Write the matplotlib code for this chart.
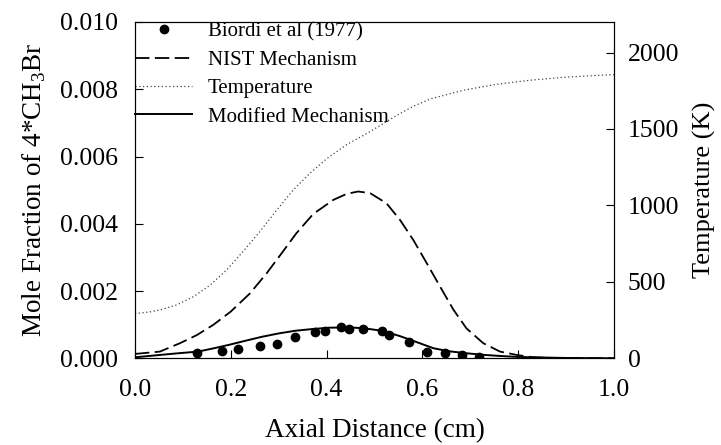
import matplotlib
matplotlib.use('Agg')
import matplotlib.pyplot as plt

plt.rcParams['font.family'] = ['Liberation Serif', 'DejaVu Serif']
plt.rcParams['mathtext.fontset'] = 'custom'
plt.rcParams['mathtext.rm'] = 'Liberation Serif'

# Biordi et al (1977) measurements
x_exp = [0.130, 0.182, 0.216, 0.260, 0.297, 0.335, 0.376, 0.396, 0.430, 0.446,
         0.477, 0.515, 0.531, 0.573, 0.610, 0.648, 0.682, 0.719]
y_exp = [0.00017, 0.00023, 0.00027, 0.00038, 0.00042, 0.00062, 0.00077, 0.00080,
         0.00094, 0.00088, 0.00088, 0.00081, 0.00069, 0.00048, 0.00019, 0.00016,
         0.00010, 0.00003]

# NIST mechanism
x_nist = [0, 0.052, 0.094, 0.129, 0.163, 0.2, 0.24, 0.275, 0.306, 0.337, 0.372, 0.414,
          0.442, 0.466, 0.491, 0.525, 0.553, 0.581, 0.609, 0.637, 0.665, 0.692, 0.727,
          0.762, 0.797, 0.831, 0.866, 0.93, 1.0]
y_nist = [0.00013, 0.0002, 0.00045, 0.00069, 0.00099, 0.00139, 0.00193, 0.00253, 0.00312,
          0.00372, 0.00429, 0.00471, 0.00489, 0.00496, 0.00491, 0.00461, 0.00412, 0.00352,
          0.00283, 0.00213, 0.00144, 0.00089, 0.00045, 0.0002, 0.0001, 0.00003, 0.00001,
          0.000003, 0.0]

# temperature profile (K)
x_temp = [0, 0.03, 0.052, 0.087, 0.122, 0.157, 0.191, 0.226, 0.261, 0.296, 0.33, 0.365,
          0.4, 0.443, 0.478, 0.513, 0.547, 0.582, 0.617, 0.686, 0.756, 0.825, 0.894,
          0.95, 1.0]
temp = [293, 303, 316, 349, 403, 479, 577, 700, 830, 970, 1100, 1210, 1305, 1400, 1460,
        1525, 1590, 1650, 1697, 1754, 1793, 1819, 1838, 1848, 1856]

# modified mechanism
x_mod = [0, 0.052, 0.09, 0.132, 0.165, 0.196, 0.23, 0.265, 0.3, 0.335, 0.37, 0.405,
         0.447, 0.48, 0.51, 0.53, 0.553, 0.575, 0.6, 0.623, 0.655, 0.692, 0.73, 0.762,
         0.8, 0.831, 0.9, 1.0]
y_mod = [0.00003, 0.0001, 0.00015, 0.0002, 0.0003, 0.0004, 0.00052, 0.00064, 0.00074,
         0.00082, 0.00087, 0.00091, 0.00092, 0.00089, 0.00083, 0.00076, 0.00066, 0.00055,
         0.00042, 0.0003, 0.00021, 0.00015, 0.0001, 0.00007, 0.00004, 0.00003, 0.00001, 0.0]

fig = plt.figure(figsize=(7.21, 4.45), dpi=100)
ax = fig.add_axes([0.1872, 0.1948, 0.6644, 0.7558])
ax2 = ax.twinx()

p1, = ax.plot(x_exp, y_exp, 'o', color='black', ms=6, label='Biordi et al (1977)')
p2, = ax.plot(x_nist, y_nist, color='black', lw=1.3, dashes=(8, 3), label='NIST Mechanism')
p3, = ax2.plot(x_temp, temp, color='#444444', lw=0.9, ls=(0, (1, 2)), label='Temperature')
p4, = ax.plot(x_mod, y_mod, color='black', lw=1.4, label='Modified Mechanism')

ax.set_xlim(0, 1.0)
ax.set_ylim(0, 0.010)
ax2.set_ylim(0, 2200)
ax.set_xticks([0.0, 0.2, 0.4, 0.6, 0.8, 1.0])
ax.set_xticklabels(['0.0', '0.2', '0.4', '0.6', '0.8', '1.0'])
ax.set_yticks([0.0, 0.002, 0.004, 0.006, 0.008, 0.010])
ax.set_yticklabels(['0.000', '0.002', '0.004', '0.006', '0.008', '0.010'])
ax2.set_yticks([0, 500, 1000, 1500, 2000])

ax.tick_params(axis='x', direction='in', length=6, width=0.8, labelsize=18.5, pad=15)
ax.tick_params(axis='y', direction='in', length=6, width=0.8, labelsize=18.5, pad=12)
ax2.tick_params(direction='in', length=6, width=0.8, labelsize=18.5, pad=10)

ax.set_xlabel('Axial Distance (cm)', fontsize=19.5, labelpad=12)
ax.set_ylabel('Mole Fraction of 4*CH$_3$Br', fontsize=19.5, labelpad=9)
ax2.set_ylabel('Temperature (K)', fontsize=19, labelpad=10)

ax.legend(handles=[p1, p2, p3, p4], loc='upper left', frameon=False, fontsize=15,
          handlelength=2.75, handletextpad=0.75, labelspacing=0.42,
          borderaxespad=0.0, borderpad=0.0)

fig.savefig('out.png', dpi=100)
